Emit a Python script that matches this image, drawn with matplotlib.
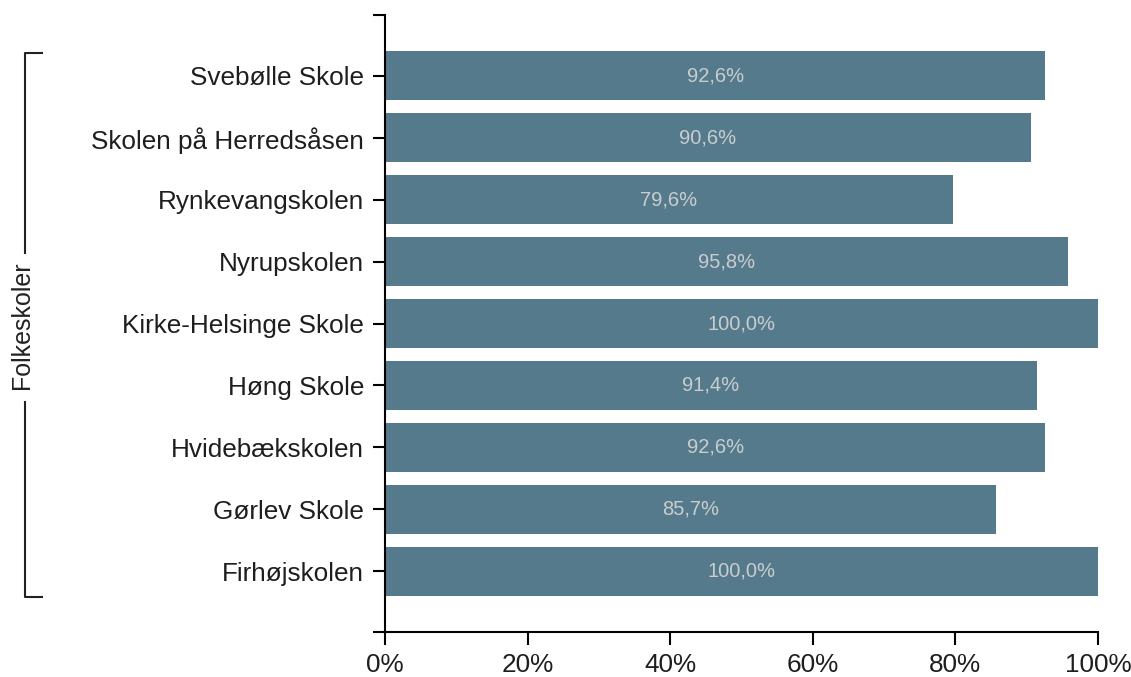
import matplotlib
matplotlib.use('Agg')
import matplotlib.pyplot as plt
from matplotlib.lines import Line2D

plt.rcParams['font.family'] = ['Liberation Sans', 'DejaVu Sans']

# data
schools = ['Svebølle Skole', 'Skolen på Herredsåsen', 'Rynkevangskolen', 'Nyrupskolen',
           'Kirke-Helsinge Skole', 'Høng Skole', 'Hvidebækskolen', 'Gørlev Skole', 'Firhøjskolen']
values = [92.6, 90.6, 79.6, 95.8, 100.0, 91.4, 92.6, 85.7, 100.0]
group_label = 'Folkeskoler'
xticks = [0, 20, 40, 60, 80, 100]

W, H = 1131, 677
fig = plt.figure(figsize=(W / 100, H / 100), dpi=100)
ax = fig.add_axes([385 / W, 1 - 632 / H, (1098 - 385) / W, (632 - 15) / H])

bar_color = '#557a8b'
ypos = list(range(len(schools)))
ax.barh(ypos, values, height=0.8, color=bar_color)

for y, v in zip(ypos, values):
    ax.text(v / 2, y, ('%.1f%%' % v).replace('.', ','), ha='center', va='center',
            fontsize=14.5, color='#c9cdd0')

ax.set_ylim(8.98, -0.98)
ax.set_xlim(0, 100)
ax.set_yticks(ypos)
ax.set_yticklabels(schools, fontsize=18.8, color='#1e1e1e')
ax.set_xticks(xticks)
ax.set_xticklabels(['%d%%' % t for t in xticks], fontsize=18.8, color='#1e1e1e')

for s in ['top', 'right']:
    ax.spines[s].set_visible(False)
ax.spines['left'].set_linewidth(1.5)
ax.spines['bottom'].set_linewidth(1.5)
ax.tick_params(axis='y', length=9, width=1.5, pad=6)
ax.tick_params(axis='x', length=9, width=1.5, pad=6)

# outer ticks at the ends of the y axis (d3 style)
outer = 12 / (1098 - 385)
for yy in [0, 1]:
    ax.plot([-outer, 0], [yy, yy], transform=ax.transAxes,
            color='black', lw=1.5, clip_on=False, solid_capstyle='butt')

# group bracket on the left
def fx(px):
    return px / W

def fy(py):
    return 1 - py / H

lc = '#222222'
fig.add_artist(Line2D([fx(42), fx(25), fx(25)], [fy(53), fy(53), fy(253)], color=lc, lw=1.5))
fig.add_artist(Line2D([fx(25), fx(25), fx(42)], [fy(402), fy(597), fy(597)], color=lc, lw=1.5))
fig.text(fx(22), fy(325), group_label, rotation=90, ha='center', va='center',
         fontsize=18, color=lc)

fig.savefig('out.png', dpi=100)
